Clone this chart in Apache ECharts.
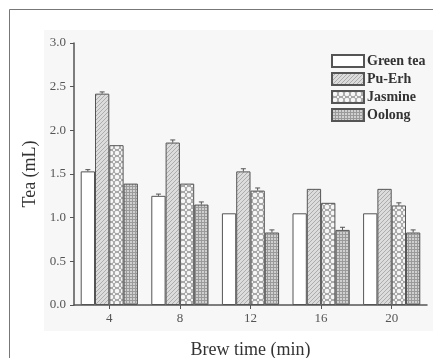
<!DOCTYPE html>
<html>
<head>
<meta charset="utf-8">
<script src="https://cdn.jsdelivr.net/npm/echarts@6/dist/echarts.min.js"></script>
<style>
  html, body { margin: 0; padding: 0; background: #ffffff; }
  #chart { width: 433px; height: 358px; }
</style>
</head>
<body>
<div id="chart"></div>
<script>
// Brew times (min)
const categories = ['4', '8', '12', '16', '20'];
// Tea volume (mL) per variety
const greenTea = [1.53, 1.25, 1.05, 1.05, 1.05];
const puErh    = [2.42, 1.86, 1.53, 1.33, 1.33];
const jasmine  = [1.83, 1.39, 1.31, 1.17, 1.14];
const oolong   = [1.39, 1.15, 0.83, 0.86, 0.83];
// Standard errors
const greenErr  = [0.02, 0.02, 0, 0, 0];
const puErhErr  = [0.02, 0.03, 0.03, 0, 0];
const jasmineErr = [0, 0, 0.03, 0, 0.03];
const oolongErr = [0, 0.03, 0.03, 0.03, 0.03];
const seriesNames = ['Green tea', 'Pu-Erh', 'Jasmine', 'Oolong'];
const yTicks = { min: 0, max: 3, interval: 0.5 };

const FONT = '"Liberation Serif", "Times New Roman", serif';

function makePattern(kind) {
  const c = document.createElement('canvas');
  const ctx = c.getContext('2d');
  if (kind === 'diag') {
    c.width = 4; c.height = 4;
    ctx.fillStyle = '#dcdcdc'; ctx.fillRect(0, 0, 4, 4);
    ctx.strokeStyle = '#a0a0a0'; ctx.lineWidth = 0.8;
    ctx.beginPath();
    ctx.moveTo(0, 4); ctx.lineTo(4, 0);
    ctx.moveTo(-1, 1); ctx.lineTo(1, -1);
    ctx.moveTo(3, 5); ctx.lineTo(5, 3);
    ctx.stroke();
  } else if (kind === 'circles') {
    c.width = 6; c.height = 6;
    ctx.fillStyle = '#a0a0a0'; ctx.fillRect(0, 0, 6, 6);
    ctx.fillStyle = '#f6f6f6';
    ctx.beginPath(); ctx.arc(3, 3, 2.3, 0, Math.PI * 2); ctx.fill();
    ctx.beginPath(); ctx.arc(0, 0, 1.2, 0, Math.PI * 2); ctx.fill();
    ctx.beginPath(); ctx.arc(6, 0, 1.2, 0, Math.PI * 2); ctx.fill();
    ctx.beginPath(); ctx.arc(0, 6, 1.2, 0, Math.PI * 2); ctx.fill();
    ctx.beginPath(); ctx.arc(6, 6, 1.2, 0, Math.PI * 2); ctx.fill();
  } else {
    c.width = 3; c.height = 3;
    ctx.fillStyle = '#d0d0d0'; ctx.fillRect(0, 0, 3, 3);
    ctx.fillStyle = '#9a9a9a';
    ctx.fillRect(0, 0, 3, 1);
    ctx.fillRect(0, 0, 1, 3);
  }
  return { image: c, repeat: 'repeat' };
}

const fills = ['#ffffff', makePattern('diag'), makePattern('circles'), makePattern('grid')];
const values = [greenTea, puErh, jasmine, oolong];
const errors = [greenErr, puErhErr, jasmineErr, oolongErr];
const GAP = 0.19;

const barSeries = values.map((vals, i) => ({
  name: seriesNames[i],
  type: 'bar',
  data: vals,
  barGap: '0%',
  barCategoryGap: (GAP * 100) + '%',
  itemStyle: { color: fills[i], borderColor: '#555555', borderWidth: 1 },
  emphasis: { disabled: true }
}));

const errSeries = errors.map((errs, i) => ({
  type: 'custom',
  silent: true,
  z: 3,
  data: errs.map((e, k) => [k, values[i][k], e]),
  renderItem: function (params, api) {
    const e = api.value(2);
    if (!e) return null;
    const k = api.value(0);
    const v = api.value(1);
    const cw = api.size([1, 0])[0];
    const bw = cw * (1 - GAP) / 4;
    const top = api.coord([k, v + e]);
    const base = api.coord([k, v]);
    const x = base[0] - cw * (1 - GAP) / 2 + (i + 0.5) * bw;
    const style = { stroke: '#555555', lineWidth: 1 };
    return {
      type: 'group',
      children: [
        { type: 'line', shape: { x1: x, y1: base[1], x2: x, y2: top[1] }, style: style },
        { type: 'line', shape: { x1: x - 2.5, y1: top[1], x2: x + 2.5, y2: top[1] }, style: style }
      ]
    };
  }
}));

const chart = echarts.init(document.getElementById('chart'), null, { renderer: 'canvas' });
chart.setOption({
  animation: false,
  backgroundColor: '#ffffff',
  graphic: [
    { type: 'rect', z: -10, shape: { x: 44, y: 30, width: 389, height: 301 }, style: { fill: '#f7f7f7' } },
    { type: 'line', shape: { x1: 9.5, y1: 9.5, x2: 433, y2: 9.5 }, style: { stroke: '#777777', lineWidth: 1 } },
    { type: 'line', shape: { x1: 9.5, y1: 9.5, x2: 9.5, y2: 358 }, style: { stroke: '#777777', lineWidth: 1 } }
  ],
  grid: { left: 74, right: 6, top: 43, bottom: 53, containLabel: false, outerBoundsMode: 'none' },
  legend: {
    orient: 'vertical',
    left: 331,
    top: 54,
    padding: 0,
    itemWidth: 32,
    itemHeight: 12,
    itemGap: 4,
    icon: 'rect',
    data: seriesNames,
    textStyle: { fontFamily: FONT, fontWeight: 'bold', fontSize: 14, color: '#333333', padding: [0, 0, 0, -2] }
  },
  xAxis: {
    type: 'category',
    data: categories,
    name: 'Brew time (min)',
    nameLocation: 'middle',
    nameGap: 36,
    nameTextStyle: { fontFamily: FONT, fontSize: 18, color: '#333333' },
    axisLine: { lineStyle: { color: '#555555', width: 1.5 } },
    axisTick: { show: true, alignWithLabel: true, length: 4, lineStyle: { color: '#555555' } },
    axisLabel: { fontFamily: FONT, fontSize: 13, color: '#555555', margin: 7 },
    splitLine: { show: false }
  },
  yAxis: {
    type: 'value',
    min: yTicks.min,
    max: yTicks.max,
    interval: yTicks.interval,
    name: 'Tea (mL)',
    nameLocation: 'middle',
    nameGap: 35,
    nameRotate: 90,
    nameTextStyle: { fontFamily: FONT, fontSize: 18, color: '#333333' },
    axisLine: { show: true, lineStyle: { color: '#555555', width: 1.5 } },
    axisTick: { show: true, length: 4, lineStyle: { color: '#555555' } },
    axisLabel: {
      fontFamily: FONT, fontSize: 13, color: '#555555', margin: 8,
      formatter: v => v.toFixed(1)
    },
    splitLine: { show: false }
  },
  series: barSeries.concat(errSeries)
});
</script>
</body>
</html>
